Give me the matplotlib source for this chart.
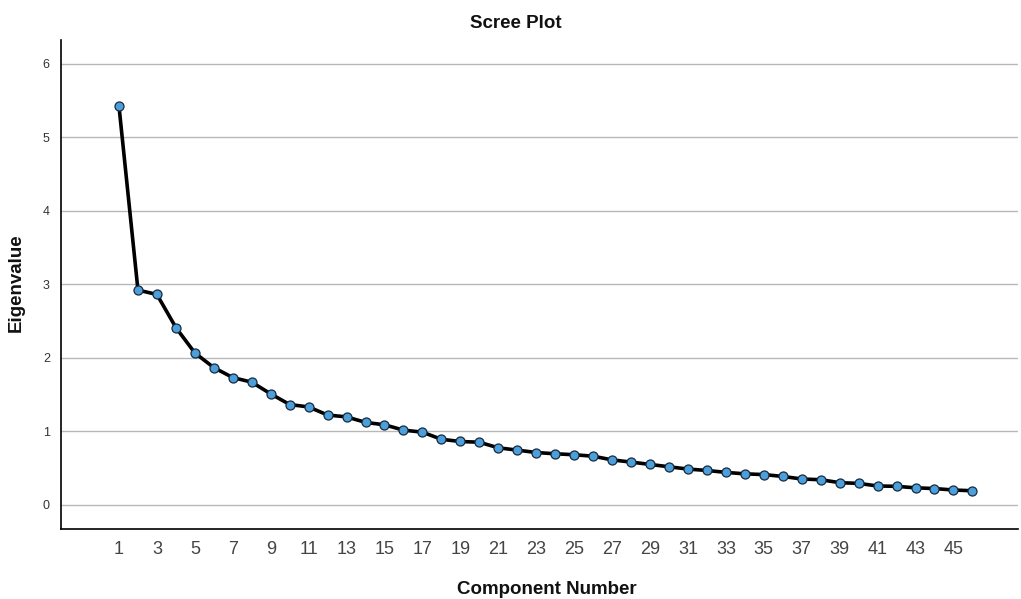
import matplotlib
matplotlib.use("Agg")
import matplotlib.pyplot as plt

components = list(range(1, 47))
eigenvalues = [5.42, 2.92, 2.86, 2.41, 2.065, 1.865, 1.73, 1.667, 1.508, 1.363,
               1.33, 1.22, 1.195, 1.12, 1.087, 1.015, 0.987, 0.89, 0.86, 0.85,
               0.774, 0.743, 0.71, 0.693, 0.68, 0.66, 0.61, 0.58, 0.548, 0.516,
               0.485, 0.466, 0.44, 0.42, 0.41, 0.385, 0.35, 0.34, 0.30, 0.29,
               0.255, 0.25, 0.23, 0.22, 0.20, 0.19]
x_ticks = list(range(1, 46, 2))
y_ticks = [0, 1, 2, 3, 4, 5, 6]

plt.rcParams['font.family'] = ['Liberation Sans', 'DejaVu Sans']

fig = plt.figure(figsize=(10.21, 5.99), dpi=100)
ax = fig.add_axes([0.0597, 0.1169, 0.9373, 0.8161])

ax.plot(components, eigenvalues, color='black', linewidth=2.6, zorder=3,
        marker='o', markersize=6.5, markerfacecolor='#4a9fdc',
        markeredgecolor='#1a2a3a', markeredgewidth=0.9)

ax.set_xlim(-2.06, 48.4)
ax.set_ylim(-0.33, 6.32)
ax.set_xticks(x_ticks)
ax.set_xticklabels([str(t) for t in x_ticks], fontsize=13, color='#444444')
ax.set_yticks(y_ticks)
ax.set_yticklabels([str(t) for t in y_ticks], fontsize=9, color='#333333')
ax.tick_params(axis='both', length=0)
ax.tick_params(axis='x', pad=9)
ax.tick_params(axis='y', pad=8)

ax.grid(axis='y', color='#b8b8b8', linewidth=1.0, zorder=0)
ax.set_axisbelow(True)
for s in ['top', 'right']:
    ax.spines[s].set_visible(False)
for s in ['left', 'bottom']:
    ax.spines[s].set_color('black')
    ax.spines[s].set_linewidth(1.2)

fig.text(0.505, 1 - 23.5 / 599, 'Scree Plot', fontsize=13.5, fontweight='bold',
         color='#111111', ha='center', va='center')
fig.text(0.536, 1 - 589 / 599, 'Component Number', fontsize=13.5, fontweight='bold',
         color='#111111', ha='center', va='center')
fig.text(16 / 1021, 1 - 283 / 599, 'Eigenvalue', fontsize=13.5, fontweight='bold',
         color='#111111', ha='center', va='center', rotation=90)

fig.savefig('out.png', dpi=100)
